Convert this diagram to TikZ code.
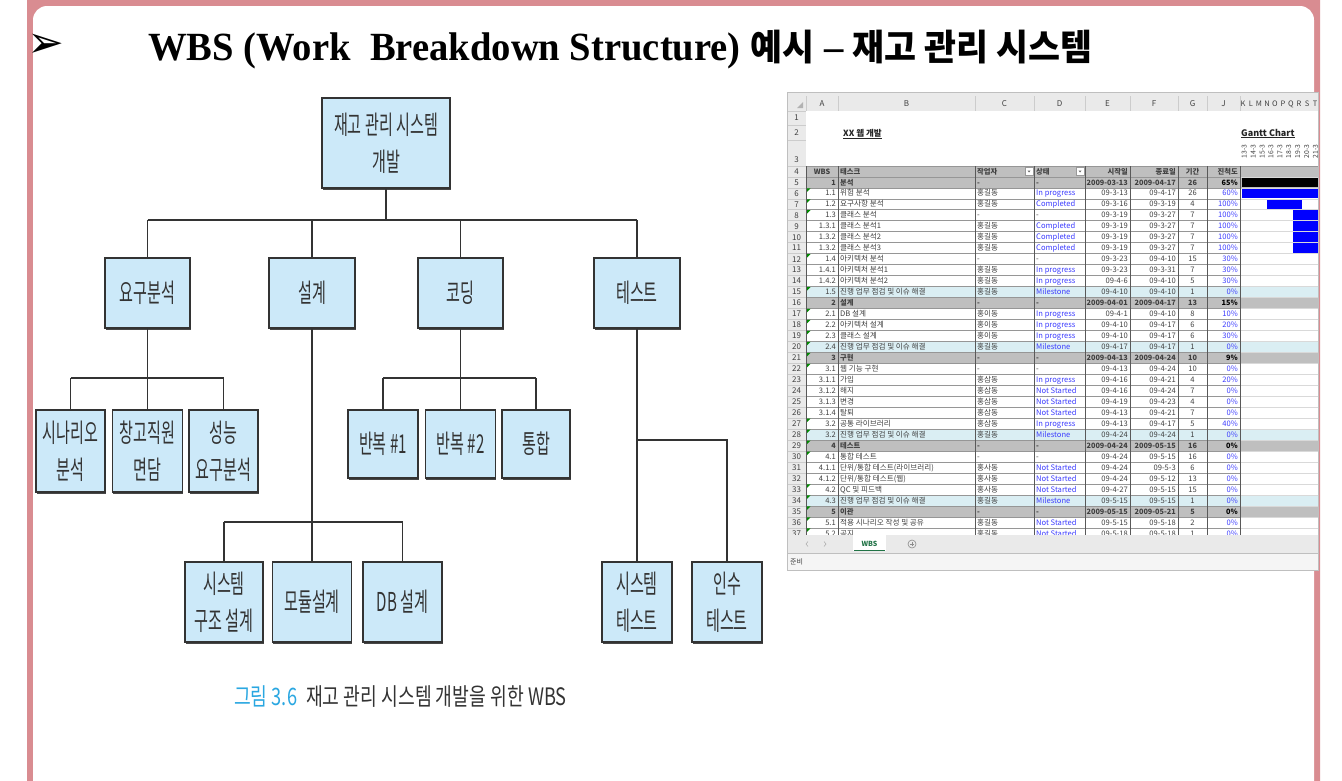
\documentclass[tikz,border=0pt]{standalone}
\usepackage{fontspec}
\usepackage{graphicx}
\setmainfont{Liberation Serif}
\newfontfamily\kr{Noto Sans CJK KR}
\newfontfamily\djv{DejaVu Sans}
\usetikzlibrary{shadows}
\definecolor{pinkb}{RGB}{217,140,145}
\definecolor{boxfill}{RGB}{204,233,249}
\definecolor{boxline}{RGB}{51,51,51}
\definecolor{capcyan}{RGB}{42,167,225}
\definecolor{hdrgray}{RGB}{191,191,191}
\definecolor{mscyan}{RGB}{218,238,243}
\definecolor{xlblue}{RGB}{60,60,255}
\definecolor{xltext}{RGB}{64,64,64}
\definecolor{xlgreen}{RGB}{33,115,70}
\definecolor{xlpanel}{RGB}{234,234,234}
\definecolor{xlgrid}{RGB}{150,150,150}
\newcommand{\kt}[1]{\scalebox{0.58}[1]{#1}}
\newcommand{\kc}[1]{\scalebox{0.76}[1]{#1}}
\newcommand{\tA}{단위/통합 테스트(라이브러리)}
\newcommand{\tB}{단위/통합 테스트(웹)}
\begin{document}
\begin{tikzpicture}[x=1pt,y=-1pt,
  wbs/.style={draw=boxline, line width=1.6pt, fill=boxfill, inner sep=0pt, align=center, text=boxline, font=\kr\fontsize{26}{37}\selectfont,
     drop shadow={shadow xshift=0.6pt, shadow yshift=-1.8pt, fill=boxline, opacity=0.9}},
  conn/.style={draw=boxline, line width=1.4pt},
  xcell/.style={inner sep=0pt, text=xltext, font=\kr\fontsize{7.6}{8}\selectfont},
  xcn/.style={xcell}, xch/.style={xcell}, xcm/.style={xcell},
  xcs/.style={xcell, font=\kr\fontsize{7.3}{8}\selectfont\bfseries},
  xsn/.style={xcell, text=xlblue}, xsm/.style={xsn}, xsh/.style={xcell}, xss/.style={xcs},
  xpn/.style={xcell, text=xlblue}, xpm/.style={xpn}, xph/.style={xpn}, xps/.style={xcs, text=black},
  xhdr/.style={inner sep=0pt, text=xltext, font=\kr\fontsize{8}{9}\selectfont},
]
\useasboundingbox (0,0) rectangle (1342,780);
% slide frame
\fill[white] (0,0) rectangle (1342,780);
\fill[pinkb] (27,-20) [rounded corners=18] rectangle (1320,800);
\fill[white, rounded corners=14] (33,6) rectangle (1314,810);

% title
\node[inner sep=0, text=black, font=\djv\fontsize{44}{46}\selectfont] (arrow) at (46,46) {➢};
\node[anchor=base west, inner sep=0] (title) at (148,60) {\scalebox{0.965}[1]{\fontsize{40}{44}\selectfont\bfseries WBS (Work\ \ Breakdown Structure) {\kr\fontsize{36}{40}\selectfont 예시} – {\kr\fontsize{36}{40}\selectfont 재고 관리 시스템}}};

% WBS tree
\node[wbs, minimum width=128, minimum height=90] (root) at (386,143) {\kt{재고 관리 시스템}\\\kt{개발}};
\node[wbs, minimum width=85, minimum height=70] (req) at (147.5,293) {\kt{요구분석}};
\node[wbs, minimum width=86, minimum height=70] (des) at (312,293) {\kt{설계}};
\node[wbs, minimum width=85, minimum height=70] (cod) at (460.5,293) {\kt{코딩}};
\node[wbs, minimum width=86, minimum height=70] (tst) at (637,293) {\kt{테스트}};
\node[wbs, minimum width=69, minimum height=82] (scen) at (70.5,451) {\kt{시나리오}\\\kt{분석}};
\node[wbs, minimum width=70, minimum height=82] (intv) at (147.5,451) {\kt{창고직원}\\\kt{면담}};
\node[wbs, minimum width=69, minimum height=82] (perf) at (223.5,451) {\kt{성능}\\\kt{요구분석}};
\node[wbs, minimum width=70, minimum height=68] (it1) at (383,444) {\kt{반복 \#1}};
\node[wbs, minimum width=70, minimum height=68] (it2) at (460.5,444) {\kt{반복 \#2}};
\node[wbs, minimum width=68, minimum height=68] (intg) at (536,444) {\kt{통합}};
\node[wbs, minimum width=78, minimum height=80] (sys) at (224,602) {\kt{시스템}\\\kt{구조 설계}};
\node[wbs, minimum width=79, minimum height=80] (mod) at (312,602) {\kt{모듈설계}};
\node[wbs, minimum width=79, minimum height=80] (db) at (402.5,602) {\kt{DB 설계}};
\node[wbs, minimum width=70, minimum height=80] (st) at (637,602) {\kt{시스템}\\\kt{테스트}};
\node[wbs, minimum width=70, minimum height=80] (at) at (727,602) {\kt{인수}\\\kt{테스트}};

\coordinate (j1) at (386,220);
\coordinate (j2) at (147.5,378);
\coordinate (j3) at (460.5,378);
\coordinate (j4) at (312,522);
\coordinate (j5) at (637,440);
\draw[conn] (root.south) -- (j1);
\draw[conn] (req.north |- j1) -- (tst.north |- j1);
\foreach \n in {req,des,cod,tst} \draw[conn] (\n.north |- j1) -- (\n.north);
\draw[conn] (req.south) -- (j2);
\draw[conn] (scen.north |- j2) -- (perf.north |- j2);
\foreach \n in {scen,intv,perf} \draw[conn] (\n.north |- j2) -- (\n.north);
\draw[conn] (cod.south) -- (j3);
\draw[conn] (it1.north |- j3) -- (intg.north |- j3);
\foreach \n in {it1,it2,intg} \draw[conn] (\n.north |- j3) -- (\n.north);
\draw[conn] (des.south) -- (j4);
\draw[conn] (sys.north |- j4) -- (db.north |- j4);
\foreach \n in {sys,mod,db} \draw[conn] (\n.north |- j4) -- (\n.north);
\draw[conn] (tst.south) -- (st.north);
\draw[conn] (j5) -- (at.north |- j5) -- (at.north);

% caption
\node[anchor=base west, inner sep=0, text=capcyan, font=\kr\fontsize{24}{26}\selectfont] (cap1) at (234,705) {\kc{그림 3.6}};
\node[anchor=base west, inner sep=0, text=boxline, font=\kr\fontsize{24}{26}\selectfont] (cap2) at (306,705) {\kc{재고 관리 시스템 개발을 위한 WBS}};

% ===== spreadsheet =====
\fill[white] (787,92) rectangle (1318,570);
\fill[xlpanel] (787,92) rectangle (1318,111);
\fill[xlpanel] (787,111) rectangle (806,535);
\fill[gray!60] (803,102) -- (803,108) -- (797,108) -- cycle;
\foreach \xx in {806,838,975,1034,1085,1130,1178,1207,1240}
  \draw[black!20, line width=0.5] (\xx,96) -- (\xx,111);
\foreach \L/\X in {A/822,B/906.5,C/1004.5,D/1059.5,E/1107.5,F/1154,G/1192.5,J/1223.5}
  \node[xhdr] (col\L) at (\X,104) {\L};
\foreach \L [count=\i from 0] in {K,L,M,N,O,P,Q,R,S,T}
  \node[xhdr, font=\kr\fontsize{7.5}{8}\selectfont] (col\L) at (1243+\i*8,104) {\L};
% row numbers
\node[xhdr] (rn1) at (796.5,118) {1};
\node[xhdr] (rn2) at (796.5,133) {2};
\node[xhdr] (rn3) at (796.5,160) {3};
\node[xhdr] (rn4) at (796.5,171.5) {4};
\foreach \yy in {111,125.5,140.5,166.3} \draw[black!20, line width=0.5] (787,\yy) -- (806,\yy);
\begin{scope}
\clip (787,92) rectangle (1318,535);
\foreach \r in {5,...,37}{
  \pgfmathsetmacro\yc{182.3+(\r-5)*10.97}
  \node[xhdr] (rn\r) at (796.5,\yc) {\r};
  \draw[black!20, line width=0.5] (787,\yc-5.485) -- (806,\yc-5.485);
}
% row fills
\fill[hdrgray] (806,166.3) rectangle (1318,176.8);
\foreach \r in {5,16,21,29,35}{
  \pgfmathsetmacro\yc{182.3+(\r-5)*10.97}
  \fill[hdrgray] (806,\yc-5.485) rectangle (1318,\yc+5.485);
}
\foreach \r in {15,20,28,34}{
  \pgfmathsetmacro\yc{182.3+(\r-5)*10.97}
  \fill[mscyan] (806,\yc-5.485) rectangle (1318,\yc+5.485);
}
% gantt bars
\fill[black] (1242,177.3) rectangle (1318,187.3);
\fill[blue] (1242,188.3) rectangle (1318,198.3);
\fill[blue] (1267,199.3) rectangle (1302,209.3);
\foreach \r in {8,...,11}{
  \pgfmathsetmacro\yc{182.3+(\r-5)*10.97}
  \fill[blue] (1293,\yc-5) rectangle (1318,\yc+5);
}
% grid
\foreach \r in {5,...,38}{
  \pgfmathsetmacro\yt{182.3+(\r-5)*10.97-5.485}
  \draw[xlgrid, line width=0.5] (806,\yt) -- (1240,\yt);
  \draw[black!15, line width=0.5] (1240,\yt) -- (1318,\yt);
}
\draw[xlgrid, line width=0.5] (806,166.3) -- (1318,166.3);
\foreach \xx in {806,838,975,1034,1085,1130,1178,1207,1240}
  \draw[black!65, line width=0.6] (\xx,166.3) -- (\xx,540);
% green triangles
\foreach \r in {6,7,8,12,15,17,18,19,20,21,22,27,28,29,30,33,34,35,36,37}{
  \pgfmathsetmacro\yt{182.3+(\r-5)*10.97-5.485}
  \fill[green!55!black] (807,\yt+0.5) -- (810.5,\yt+0.5) -- (807,\yt+4) -- cycle;
}
% header row 4
\node[xcs, anchor=base] (h4a) at (822,174.2) {WBS};
\node[xcs, anchor=base west] (h4b) at (840,174.2) {태스크};
\node[xcs, anchor=base west] (h4c) at (977,174.2) {작업자};
\node[xcs, anchor=base west] (h4d) at (1036,174.2) {상태};
\node[xcs, anchor=base east] (h4e) at (1128,174.2) {시작일};
\node[xcs, anchor=base east] (h4f) at (1176,174.2) {종료일};
\node[xcs, anchor=base] (h4g) at (1192.5,174.2) {기간};
\node[xcs, anchor=base east] (h4j) at (1238,174.2) {진척도};
\foreach \xx in {1025,1076}{
  \draw[fill=white, draw=black!40, line width=0.4] (\xx,167.5) rectangle (\xx+8,175.5);
  \fill[black!60] (\xx+2.5,170.5) -- (\xx+5.5,170.5) -- (\xx+4,172.5) -- cycle;
}
% data rows
\foreach \r/\a/\b/\c/\d/\e/\f/\g/\j/\t in {
5/1/분석/-/-/2009-03-13/2009-04-17/26/65\%/s,
6/1.1/위험 분석/홍길동/In progress/09-3-13/09-4-17/26/60\%/n,
7/1.2/요구사항 분석/홍길동/Completed/09-3-16/09-3-19/4/100\%/n,
8/1.3/클래스 분석/-/-/09-3-19/09-3-27/7/100\%/h,
9/1.3.1/클래스 분석1/홍길동/Completed/09-3-19/09-3-27/7/100\%/n,
10/1.3.2/클래스 분석2/홍길동/Completed/09-3-19/09-3-27/7/100\%/n,
11/1.3.2/클래스 분석3/홍길동/Completed/09-3-19/09-3-27/7/100\%/n,
12/1.4/아키텍처 분석/-/-/09-3-23/09-4-10/15/30\%/h,
13/1.4.1/아키텍처 분석1/홍길동/In progress/09-3-23/09-3-31/7/30\%/n,
14/1.4.2/아키텍처 분석2/홍길동/In progress/09-4-6/09-4-10/5/30\%/n,
15/1.5/진행 업무 점검 및 이슈 해결/홍길동/Milestone/09-4-10/09-4-10/1/0\%/m,
16/2/설계/-/-/2009-04-01/2009-04-17/13/15\%/s,
17/2.1/DB 설계/홍이동/In progress/09-4-1/09-4-10/8/10\%/n,
18/2.2/아키텍처 설계/홍이동/In progress/09-4-10/09-4-17/6/20\%/n,
19/2.3/클래스 설계/홍이동/In progress/09-4-10/09-4-17/6/30\%/n,
20/2.4/진행 업무 점검 및 이슈 해결/홍길동/Milestone/09-4-17/09-4-17/1/0\%/m,
21/3/구현/-/-/2009-04-13/2009-04-24/10/9\%/s,
22/3.1/웹 기능 구현/-/-/09-4-13/09-4-24/10/0\%/h,
23/3.1.1/가입/홍삼동/In progress/09-4-16/09-4-21/4/20\%/n,
24/3.1.2/해지/홍삼동/Not Started/09-4-16/09-4-24/7/0\%/n,
25/3.1.3/변경/홍삼동/Not Started/09-4-19/09-4-23/4/0\%/n,
26/3.1.4/탈퇴/홍삼동/Not Started/09-4-13/09-4-21/7/0\%/n,
27/3.2/공통 라이브러리/홍삼동/In progress/09-4-13/09-4-17/5/40\%/n,
28/3.2/진행 업무 점검 및 이슈 해결/홍길동/Milestone/09-4-24/09-4-24/1/0\%/m,
29/4/테스트/-/-/2009-04-24/2009-05-15/16/0\%/s,
30/4.1/통합 테스트/-/-/09-4-24/09-5-15/16/0\%/h,
31/4.1.1/\tA/홍사동/Not Started/09-4-24/09-5-3/6/0\%/n,
32/4.1.2/\tB/홍사동/Not Started/09-4-24/09-5-12/13/0\%/n,
33/4.2/QC 및 피드백/홍사동/Not Started/09-4-27/09-5-15/15/0\%/n,
34/4.3/진행 업무 점검 및 이슈 해결/홍길동/Milestone/09-5-15/09-5-15/1/0\%/m,
35/5/이관/-/-/2009-05-15/2009-05-21/5/0\%/s,
36/5.1/적용 시나리오 작성 및 공유/홍길동/Not Started/09-5-15/09-5-18/2/0\%/n,
37/5.2/공지/홍길동/Not Started/09-5-18/09-5-18/1/0\%/n}{
  \pgfmathsetmacro\yb{182.3+(\r-5)*10.97+2.7}
  \node[xc\t, anchor=base east] (a\r) at (836,\yb) {\a};
  \node[xc\t, anchor=base west] (b\r) at (840,\yb) {\b};
  \node[xc\t, anchor=base west] (c\r) at (977,\yb) {\c};
  \node[xs\t, anchor=base west] (d\r) at (1036,\yb) {\d};
  \node[xc\t, anchor=base east] (e\r) at (1128,\yb) {\e};
  \node[xc\t, anchor=base east] (f\r) at (1176,\yb) {\f};
  \node[xc\t, anchor=base] (g\r) at (1192.5,\yb) {\g};
  \node[xp\t, anchor=base east] (p\r) at (1238,\yb) {\j};
}
\end{scope}
% titles inside sheet
\node[anchor=base west, inner sep=0, text=black!85, font=\kr\fontsize{8.5}{9}\selectfont\bfseries] (sheettitle) at (843,136) {\underline{XX 웹 개발}};
\node[anchor=base west, inner sep=0, text=black!85, font=\kr\fontsize{9}{10}\selectfont\bfseries] (gantt) at (1241,136) {\underline{Gantt Chart}};
\foreach \k [count=\i from 0] in {13,...,21}
  \node[rotate=90, inner sep=0, text=xltext, font=\kr\fontsize{6.8}{7}\selectfont] (dt\k) at (1244.3+\i*8.9,151.5) {\k-3};
% tab bar and status bar
\fill[xlpanel] (787,535) rectangle (1318,553);
\fill[black!4] (787,553) rectangle (1318,570);
\draw[black!25, line width=0.5] (787,553) -- (1318,553);
\fill[white] (853,535) rectangle (886,551);
\draw[xlgreen, line width=1.5] (854,550.5) -- (885,550.5);
\node[inner sep=0, text=xlgreen, font=\kr\fontsize{7}{8}\selectfont\bfseries] (tab) at (869.5,543.5) {WBS};
\draw[black!45, line width=0.6] (912,544) circle (4);
\draw[black!45, line width=0.6] (910,544) -- (914,544) (912,542) -- (912,546);
\draw[black!30, line width=0.6] (808,541.5) -- (806,544) -- (808,546.5);
\draw[black!30, line width=0.6] (824,541.5) -- (826,544) -- (824,546.5);
\node[anchor=west, inner sep=0, text=xltext, font=\kr\fontsize{7}{8}\selectfont] (ready) at (790,561.5) {준비};
\draw[black!25, line width=0.5] (787,92) rectangle (1318,570);
\end{tikzpicture}
\end{document}
